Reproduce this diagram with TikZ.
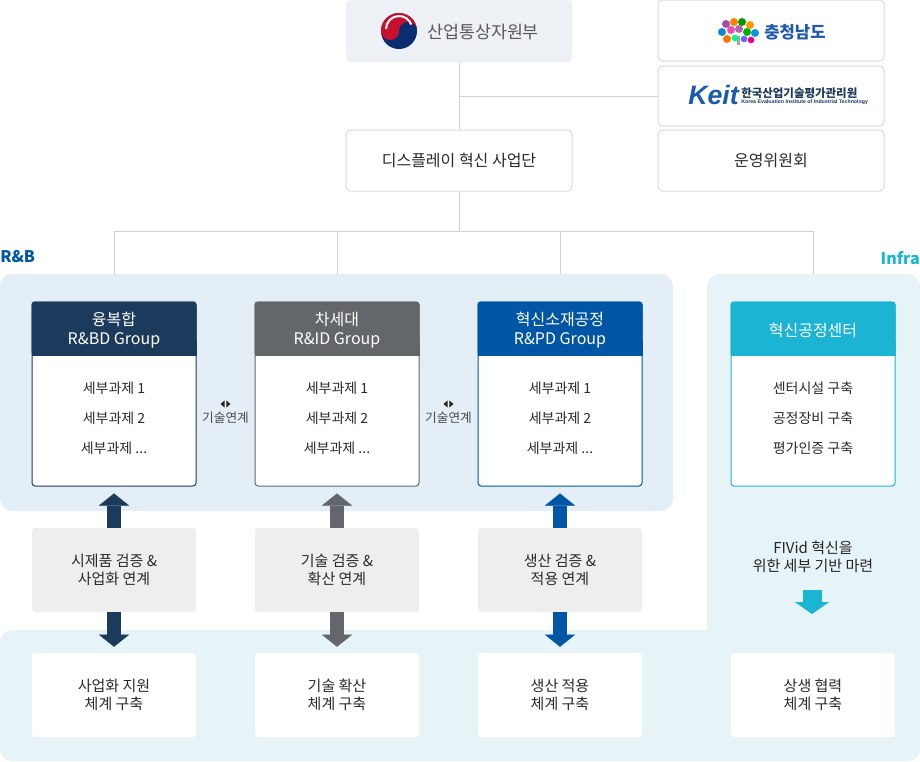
\documentclass[tikz,border=0pt]{standalone}
\usepackage{fontspec}
\setmainfont{Noto Sans CJK KR}
\newfontfamily\latinlogo{Liberation Sans}
\usetikzlibrary{arrows.meta,calc}
\definecolor{navyh}{HTML}{1B3A5C}
\definecolor{grayh}{HTML}{63666A}
\definecolor{blueh}{HTML}{0055A4}
\definecolor{cyanh}{HTML}{1CB4D3}
\definecolor{rbbg}{HTML}{E3EEF7}
\definecolor{infbg}{HTML}{E6F4F7}
\definecolor{topbg}{HTML}{EDF0F5}
\definecolor{bordc}{HTML}{DCDCDC}
\definecolor{linec}{HTML}{D2D2D2}
\definecolor{midbg}{HTML}{EEEEEE}
\definecolor{txt}{HTML}{2A2A2A}
\definecolor{keitblue}{HTML}{1A5BAF}
\definecolor{cnblue}{HTML}{1F5BA8}
\definecolor{tgred}{HTML}{C8102E}
\definecolor{tgblue}{HTML}{0B2C6F}
\tikzset{
  topbox/.style={draw=bordc, fill=white, line width=0.75pt, rounded corners=3pt,
    minimum width=226*0.75pt, minimum height=61*0.75pt, inner sep=0pt,
    font=\fontsize{12pt}{14pt}\selectfont, text=txt},
  grpbox/.style={fill=white, line width=0.75pt, rounded corners=2.25pt,
    minimum width=164*0.75pt, minimum height=184*0.75pt, inner sep=0pt},
  midbox/.style={fill=midbg, rounded corners=2.25pt, minimum width=164*0.75pt,
    minimum height=84*0.75pt, inner sep=0pt, align=center, text=txt,
    font=\fontsize{11.25pt}{13.5pt}\selectfont},
  botbox/.style={midbox, fill=white},
  hdtxt/.style={text=white, align=center, inner sep=0pt,
    font=\fontsize{12pt}{14.25pt}\selectfont},
  itemtxt/.style={text=txt, inner sep=0pt, font=\fontsize{10.5pt}{12pt}\selectfont},
  linktxt/.style={text=txt!85, inner sep=0pt, font=\fontsize{9.5pt}{11pt}\selectfont},
  conn/.style={draw=linec, line width=0.75pt},
  bigarrow/.style={line width=14*0.75pt,
    -{Triangle[width=30*0.75pt, length=12*0.75pt, line width=0.01pt]}},
  sectlabel/.style={inner sep=0pt, font=\fontsize{12pt}{14pt}\selectfont\bfseries}
}
\begin{document}
\begin{tikzpicture}[x=0.75pt,y=-0.75pt]
\useasboundingbox (0,0) rectangle (920,761);

% background panels
\fill[rbbg, rounded corners=9pt] (0,274) rectangle (673,511);
\fill[infbg, rounded corners=9pt] (0,630) rectangle (920,761);
\fill[infbg, rounded corners=9pt] (707,274) rectangle (920,700);
\coordinate (rbtop) at (0,274);
\coordinate (busy) at (0,231);

% top boxes
\node[topbox, draw=none, fill=topbg, minimum height=62*0.75pt] (motie) at (459,31) {};
\node[topbox] (cn) at (771,30.5) {};
\node[topbox, minimum height=60*0.75pt] (keit) at (771,96) {};
\node[topbox] (dis) at (459,160.5) {디스플레이 혁신 사업단};
\node[topbox] (ops) at (771,160.5) {운영위원회};

% MOTIE emblem and text
\begin{scope}[shift={(399,31)}]
  \fill[tgblue] (0,0) circle[radius=18*0.75pt];
  \fill[tgred] (-18,0) arc[start angle=180, end angle=0, radius=18*0.75pt] -- cycle;
  \fill[tgred] (-9,0) circle[radius=9*0.75pt];
  \fill[tgblue] (9,0) circle[radius=9*0.75pt];
  \draw[white, line width=1.5pt] (-13,-2) arc[start angle=180, end angle=20, radius=13*0.75pt];
\end{scope}
\node[anchor=west, inner sep=0pt, text=black!65, font=\fontsize{13pt}{15pt}\selectfont] (motietxt) at (427,32) {산업통상자원부};

% Chungnam logo
\begin{scope}[shift={(738,32)}]
  \fill[gray!70] (-1.5,4) rectangle (1.5,13);
  \fill[violet!70] (-12,-8) circle[radius=3pt];
  \fill[orange] (-4,-10) circle[radius=3pt];
  \fill[green!60!black] (4,-10) circle[radius=3pt];
  \fill[orange!80!yellow] (12,-7) circle[radius=3pt];
  \fill[cyan!70!blue] (-16,0) circle[radius=3pt];
  \fill[magenta!70] (-7,-2) circle[radius=3pt];
  \fill[violet!60] (1,-3) circle[radius=3pt];
  \fill[green!70!black] (9,0) circle[radius=3pt];
  \fill[cyan!80!blue] (17,1) circle[radius=3pt];
  \fill[orange!90!red] (-11,7) circle[radius=3pt];
  \fill[green!50!cyan] (-3,6) circle[radius=2.5pt];
  \fill[blue!60] (6,7) circle[radius=2.5pt];
  \fill[magenta] (13,8) circle[radius=2.5pt];
\end{scope}
\node[anchor=west, inner sep=0pt, text=cnblue, font=\fontsize{12.5pt}{14pt}\selectfont\bfseries] (cntxt) at (764,32) {충청남도};

% KEIT logo
\node[anchor=west, inner sep=0pt, text=keitblue, font=\latinlogo\bfseries\itshape\fontsize{20pt}{22pt}\selectfont] (keitlogo) at (688,95) {Keit};
\node[anchor=west, inner sep=0pt, text=navyh, font=\fontsize{8.6pt}{9pt}\selectfont\bfseries] (keitkr) at (741,93) {한국산업기술평가관리원};
\node[anchor=west, inner sep=0pt, text=navyh] (keiten) at (741,102.5) {\resizebox{95pt}{!}{\latinlogo\bfseries Korea Evaluation Institute of Industrial Technology}};

% connectors at top
\draw[conn] (motie.south) -- (dis.north);
\draw[conn] (motie.south |- keit.west) -- (keit.west);
\draw[conn] (dis.south) -- (dis.south |- busy);

% section labels
\node[sectlabel, anchor=west, text=blueh] (rblabel) at (0,257) {R\&B};
\node[sectlabel, anchor=east, text=cyanh] (inflabel) at (920,258) {Infra};

% group boxes
\node[grpbox, draw=navyh] (g1) at (114,394) {};
\node[grpbox, draw=grayh] (g2) at (337,394) {};
\node[grpbox, draw=blueh] (g3) at (560,394) {};
\node[grpbox, draw=cyanh] (g4) at (813,394) {};

\foreach \g/\c in {g1/navyh, g2/grayh, g3/blueh, g4/cyanh}{
  \fill[\c, rounded corners=2.25pt] (\g.north west) rectangle ($(\g.north east)+(0,54)$);
  \fill[\c] ($(\g.north west)+(0,40)$) rectangle ($(\g.north east)+(0,54)$);
}

\node[hdtxt] (h1) at ($(g1.north)+(0,28.5)$) {융복합\\R\&BD Group};
\node[hdtxt] (h2) at ($(g2.north)+(0,28.5)$) {차세대\\R\&ID Group};
\node[hdtxt] (h3) at ($(g3.north)+(0,28.5)$) {혁신소재공정\\R\&PD Group};
\node[hdtxt] (h4) at ($(g4.north)+(0,29)$) {혁신공정센터};

\foreach \g in {g1,g2,g3}{
  \node[itemtxt] at ($(\g.north)+(0,87)$) {세부과제 1};
  \node[itemtxt] at ($(\g.north)+(0,117)$) {세부과제 2};
  \node[itemtxt] at ($(\g.north)+(0,147)$) {세부과제 ...};
}
\node[itemtxt] (i41) at ($(g4.north)+(0,87)$) {센터시설 구축};
\node[itemtxt] (i42) at ($(g4.north)+(0,117)$) {공정장비 구축};
\node[itemtxt] (i43) at ($(g4.north)+(0,147)$) {평가인증 구축};

% bus connectors
\draw[conn] (g1.north |- busy) -- (g4.north |- busy);
\foreach \g in {g1,g2,g3,g4}{
  \draw[conn] (\g.north |- busy) -- (\g.north |- rbtop);
}

% tech link labels
\coordinate (l12) at ($(g1.east)!0.5!(g2.west)+(0,10)$);
\coordinate (l23) at ($(g2.east)!0.5!(g3.west)+(0,10)$);
\foreach \l in {l12,l23}{
  \fill[black!85] ($(\l)+(-5,0)$) -- ($(\l)+(-0.8,-3.6)$) -- ($(\l)+(-0.8,3.6)$) -- cycle;
  \fill[black!85] ($(\l)+(5,0)$) -- ($(\l)+(0.8,-3.6)$) -- ($(\l)+(0.8,3.6)$) -- cycle;
  \node[linktxt] at ($(\l)+(0,13.5)$) {기술연계};
}

% middle boxes
\node[midbox] (m1) at (114,570) {시제품 검증 \&\\사업화 연계};
\node[midbox] (m2) at (337,570) {기술 검증 \&\\확산 연계};
\node[midbox] (m3) at (560,570) {생산 검증 \&\\적용 연계};
\node[align=center, inner sep=0pt, text=black!85, font=\fontsize{11.25pt}{13.5pt}\selectfont] (m4) at (813,557) {FIVid 혁신을\\위한 세부 기반 마련};

% bottom boxes
\node[botbox] (b1) at (114,695) {사업화 지원\\체계 구축};
\node[botbox] (b2) at (337,695) {기술 확산\\체계 구축};
\node[botbox] (b3) at (560,695) {생산 적용\\체계 구축};
\node[botbox] (b4) at (813,695) {상생 협력\\체계 구축};

% arrows
\foreach \i/\c in {1/navyh, 2/grayh, 3/blueh}{
  \draw[bigarrow, \c] (m\i.north) -- ($(g\i.south)+(0,7)$);
  \draw[bigarrow, \c] (m\i.south) -- ($(b\i.north)+(0,-6)$);
}
\coordinate (ca1) at (812,590);
\coordinate (ca2) at (812,614);
\draw[cyanh, line width=19*0.75pt, -{Triangle[width=34*0.75pt, length=12*0.75pt, line width=0.01pt]}] (ca1) -- (ca2);
\end{tikzpicture}
\end{document}
